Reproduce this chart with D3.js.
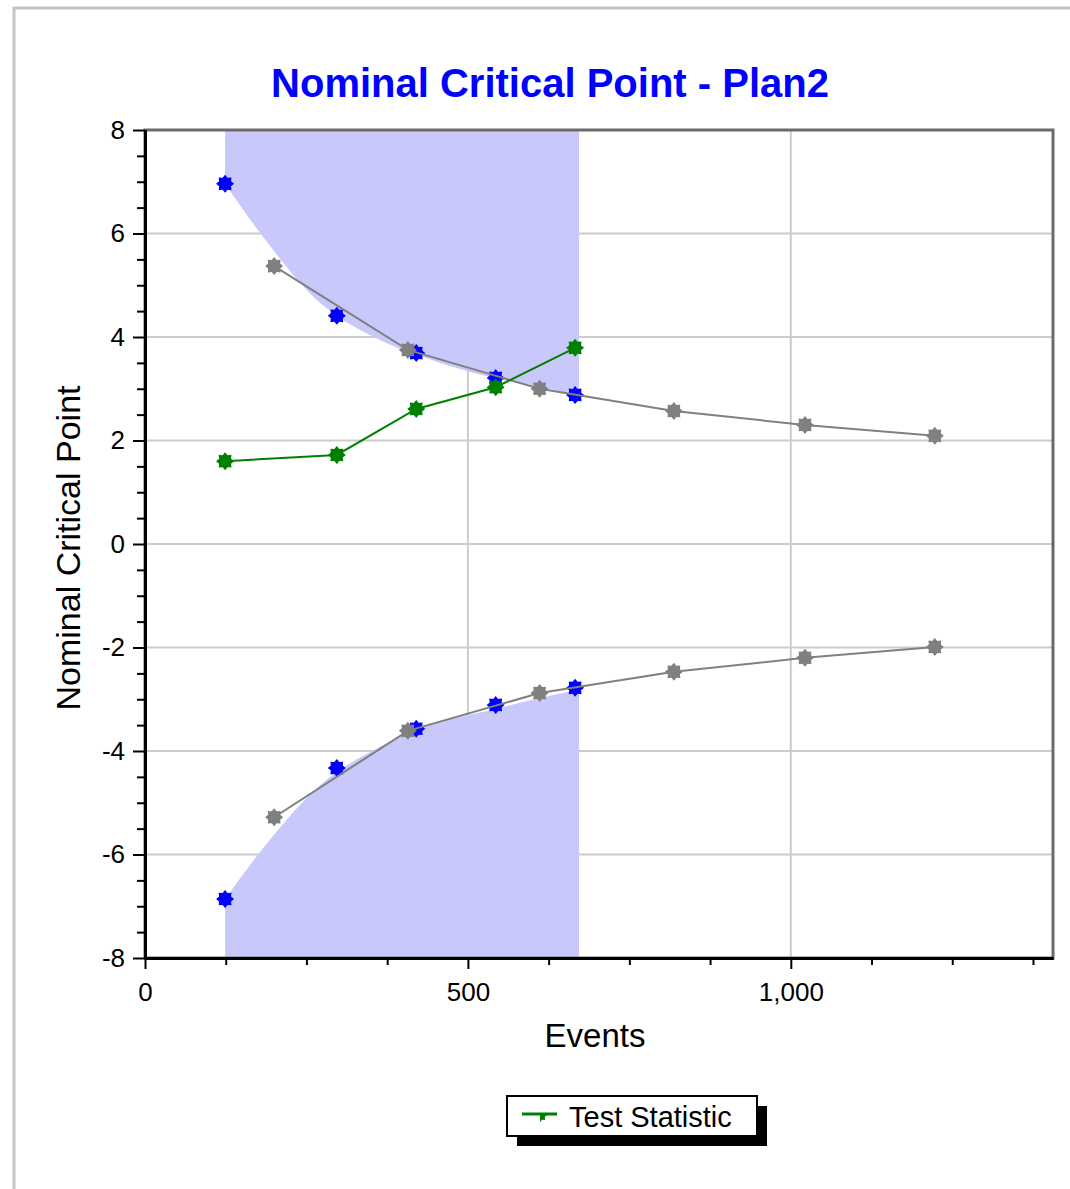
<!DOCTYPE html>
<html>
<head>
<meta charset="utf-8">
<script src="https://cdn.jsdelivr.net/npm/d3@7"></script>
<style>
  body { margin: 0; background: #fff; }
  svg { display: block; font-family: 'Liberation Sans', Arial, sans-serif; }
</style>
</head>
<body>
<div id="chart-container"></div>
<script>
// values
const boundaryEvents = [124, 297, 420, 543, 666]
const upperBoundary = [6.96, 4.41, 3.69, 3.21, 2.88]
const lowerBoundary = [-6.86, -4.33, -3.57, -3.11, -2.78]
const testStatistic = [1.6, 1.72, 2.61, 3.03, 3.79]

const referenceEvents = [200, 407, 611, 819, 1022, 1223]
const referenceUpper = [5.37, 3.75, 3.0, 2.57, 2.3, 2.09]
const referenceLower = [-5.28, -3.61, -2.88, -2.47, -2.2, -1.99]

// edges of the shaded rejection regions
const shadeUpperEvents = [124, 183, 271, 364, 457, 554, 632, 672]
const shadeUpper = [6.96, 5.93, 4.66, 3.94, 3.5, 3.17, 2.98, 2.84]
const shadeLowerEvents = [124, 193, 271, 364, 426, 539, 632, 672]
const shadeLower = [-6.86, -5.72, -4.66, -3.92, -3.56, -3.2, -2.92, -2.82]

const xTicks = [0, 500, 1000]
const yTicks = [-8, -6, -4, -2, 0, 2, 4, 6, 8]

const chartTitle = 'Nominal Critical Point - Plan2'
const xLabel = 'Events'
const yLabel = 'Nominal Critical Point'
const legendLabel = 'Test Statistic'

const width = 1070
const height = 1189
const plot = { left: 145, top: 130, right: 1053, bottom: 958 }

const colors = {
  blue: '#0000ff',
  gray: '#808080',
  green: '#008000',
  shade: '#c8c8fa',
  grid: '#cccccc'
}

const zip = (xs, ys) => xs.map((x, i) => [x, ys[i]])

const svg = d3
  .select('#chart-container')
  .append('svg')
  .attr('width', width)
  .attr('height', height)

const xScale = d3.scaleLinear().domain([0, 1406]).range([plot.left, plot.right])
const yScale = d3.scaleLinear().domain([-8, 8]).range([plot.bottom, plot.top])

// 8-point star marker
const starPoints = d3.range(16).map(i => [(i * Math.PI) / 8, i % 2 === 0 ? 9 : 6.5])
const starPath = d3.lineRadial().curve(d3.curveLinearClosed)(starPoints)

// outer panel frame
svg
  .append('rect')
  .attr('x', 14)
  .attr('y', 8)
  .attr('width', width + 20)
  .attr('height', height + 20)
  .attr('fill', 'none')
  .attr('stroke', '#c6c6be')
  .attr('stroke-width', 3)

svg
  .append('text')
  .attr('x', 550)
  .attr('y', 97)
  .attr('text-anchor', 'middle')
  .attr('font-size', 40)
  .attr('font-weight', 'bold')
  .attr('fill', colors.blue)
  .text(chartTitle)

// grid
const grid = svg.append('g')
grid
  .selectAll('line.h')
  .data(yTicks.filter(d => d > -8 && d < 8))
  .join('line')
  .attr('x1', plot.left)
  .attr('x2', plot.right)
  .attr('y1', d => yScale(d))
  .attr('y2', d => yScale(d))
  .attr('stroke', colors.grid)
  .attr('stroke-width', 2)
grid
  .selectAll('line.v')
  .data(xTicks.filter(d => d > 0))
  .join('line')
  .attr('x1', d => xScale(d))
  .attr('x2', d => xScale(d))
  .attr('y1', plot.top)
  .attr('y2', plot.bottom)
  .attr('stroke', colors.grid)
  .attr('stroke-width', 2)

// shaded regions
const upperArea = d3
  .area()
  .x(d => xScale(d[0]))
  .y0(yScale(8))
  .y1(d => yScale(d[1]))
  .curve(d3.curveMonotoneX)
const lowerArea = d3
  .area()
  .x(d => xScale(d[0]))
  .y0(yScale(-8))
  .y1(d => yScale(d[1]))
  .curve(d3.curveMonotoneX)

svg
  .append('path')
  .attr('d', upperArea(zip(shadeUpperEvents, shadeUpper)))
  .attr('fill', colors.shade)
svg
  .append('path')
  .attr('d', lowerArea(zip(shadeLowerEvents, shadeLower)))
  .attr('fill', colors.shade)

// lines
const line = d3
  .line()
  .x(d => xScale(d[0]))
  .y(d => yScale(d[1]))

const drawSeries = (points, color, withLine) => {
  if (withLine) {
    svg
      .append('path')
      .attr('d', line(points))
      .attr('fill', 'none')
      .attr('stroke', color)
      .attr('stroke-width', 2)
  }
  svg
    .append('g')
    .selectAll('path')
    .data(points)
    .join('path')
    .attr('d', starPath)
    .attr('transform', d => `translate(${xScale(d[0])},${yScale(d[1])})`)
    .attr('fill', color)
}

drawSeries(zip(boundaryEvents, upperBoundary), colors.blue, false)
drawSeries(zip(boundaryEvents, lowerBoundary), colors.blue, false)
drawSeries(zip(referenceEvents, referenceUpper), colors.gray, true)
drawSeries(zip(referenceEvents, referenceLower), colors.gray, true)
drawSeries(zip(boundaryEvents, testStatistic), colors.green, true)

// plot frame
svg
  .append('rect')
  .attr('x', plot.left)
  .attr('y', plot.top)
  .attr('width', plot.right - plot.left)
  .attr('height', plot.bottom - plot.top)
  .attr('fill', 'none')
  .attr('stroke', '#6a6a6a')
  .attr('stroke-width', 3)

// axes
const hyphenFormat = d => String(d).replace('\u2212', '-')

const xAxis = d3
  .axisBottom(xScale)
  .tickValues(xTicks)
  .tickFormat(d3.format(','))
  .tickSize(11)
  .tickSizeOuter(0)
  .tickPadding(14)
const xMinor = d3
  .axisBottom(xScale)
  .tickValues(d3.range(0, 1406, 125).filter(d => d % 500 !== 0))
  .tickFormat('')
  .tickSize(7)
  .tickSizeOuter(0)

const yAxis = d3
  .axisLeft(yScale)
  .tickValues(yTicks)
  .tickFormat(hyphenFormat)
  .tickSize(12)
  .tickSizeOuter(0)
  .tickPadding(8)
const yMinor = d3
  .axisLeft(yScale)
  .tickValues(d3.range(-7.5, 8, 0.5).filter(d => d % 2 !== 0))
  .tickFormat('')
  .tickSize(8)
  .tickSizeOuter(0)

const styleAxis = g => {
  g.select('.domain').attr('stroke', '#000').attr('stroke-width', 3)
  g.selectAll('.tick line').attr('stroke', '#000').attr('stroke-width', 2)
  g.selectAll('.tick text').attr('font-size', 26).attr('fill', '#000').attr('font-family', null)
}

svg
  .append('g')
  .attr('transform', `translate(0,${plot.bottom})`)
  .call(xMinor)
  .call(styleAxis)
svg
  .append('g')
  .attr('transform', `translate(0,${plot.bottom})`)
  .call(xAxis)
  .call(styleAxis)
svg
  .append('g')
  .attr('transform', `translate(${plot.left},0)`)
  .call(yMinor)
  .call(styleAxis)
svg
  .append('g')
  .attr('transform', `translate(${plot.left},0)`)
  .call(yAxis)
  .call(styleAxis)

svg
  .append('text')
  .attr('x', 595)
  .attr('y', 1047)
  .attr('text-anchor', 'middle')
  .attr('font-size', 33)
  .text(xLabel)

svg
  .append('text')
  .attr('transform', `translate(80,548) rotate(-90)`)
  .attr('text-anchor', 'middle')
  .attr('font-size', 34)
  .text(yLabel)

// legend
const legend = svg.append('g').attr('transform', 'translate(507,1096)')
legend.append('rect').attr('x', 10).attr('y', 10).attr('width', 250).attr('height', 40).attr('fill', '#000')
legend
  .append('rect')
  .attr('x', 0)
  .attr('y', 0)
  .attr('width', 250)
  .attr('height', 40)
  .attr('fill', '#fff')
  .attr('stroke', '#000')
  .attr('stroke-width', 2)
legend
  .append('clipPath')
  .attr('id', 'legend-clip')
  .append('rect')
  .attr('x', 0)
  .attr('y', 0)
  .attr('width', 100)
  .attr('height', 19)
legend
  .append('line')
  .attr('x1', 15)
  .attr('x2', 50)
  .attr('y1', 18)
  .attr('y2', 18)
  .attr('stroke', colors.green)
  .attr('stroke-width', 3)
legend
  .append('path')
  .attr('d', starPath)
  .attr('transform', 'translate(33,19) scale(0.8)')
  .attr('fill', colors.green)
  .attr('clip-path', 'url(#legend-clip)')
legend
  .append('text')
  .attr('x', 62)
  .attr('y', 31)
  .attr('font-size', 29)
  .text(legendLabel)
</script>
</body>
</html>
